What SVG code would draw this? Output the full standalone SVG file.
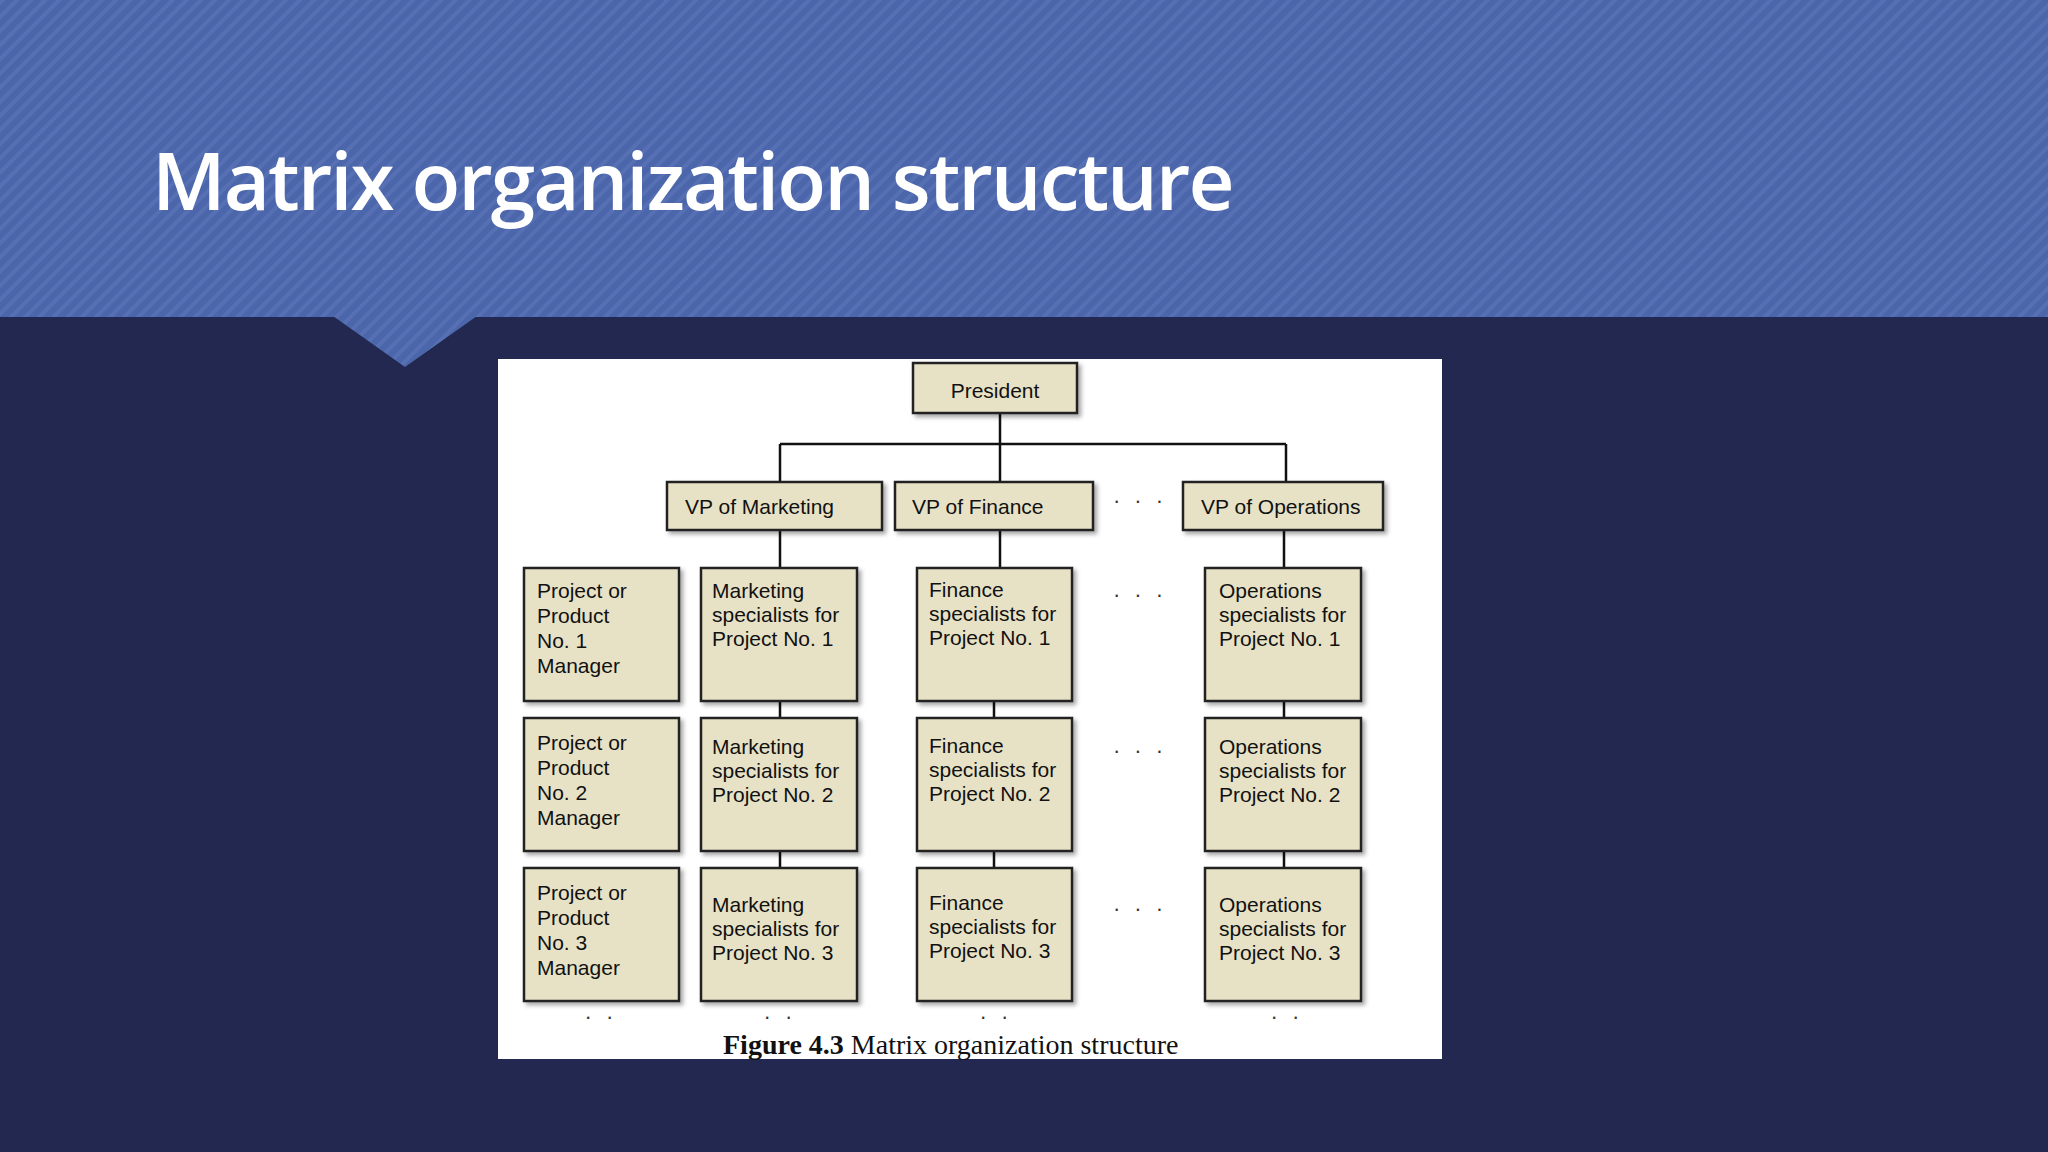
<svg xmlns="http://www.w3.org/2000/svg" width="2048" height="1152" viewBox="0 0 2048 1152">
<defs>
<pattern id="st" width="10" height="10" patternUnits="userSpaceOnUse" patternTransform="rotate(45)">
<rect width="10" height="10" fill="#4c66ab"/><rect width="4" height="10" fill="#5670b3"/>
</pattern>
<filter id="sh" x="-10%" y="-10%" width="130%" height="130%"><feDropShadow dx="3" dy="3" stdDeviation="2" flood-color="#000" flood-opacity="0.35"/></filter>
</defs>
<style>
.b{fill:#e7e2c6;stroke:#222;stroke-width:2.5;filter:url(#sh)}
.t{font-family:"Liberation Sans",Arial,sans-serif;font-size:21px;fill:#111}
.c{stroke:#111;stroke-width:2.5;fill:none}
.d{font-family:"Liberation Sans",Arial,sans-serif;font-size:22px;fill:#333;letter-spacing:4px}
</style>
<rect width="2048" height="1152" fill="#22284f"/>
<rect width="2048" height="317" fill="url(#st)"/>
<polygon points="333,316 477,316 405,367" fill="url(#st)"/>
<text x="152" y="210" font-family="Open Sans,Noto Sans,sans-serif" font-size="80" font-weight="600" letter-spacing="-2" fill="#fff">Matrix organization structure</text>
<rect x="498" y="359" width="944" height="700" fill="#fff"/>
<g id="connectors">
<path class="c" d="M1000,413V444M780,444H1286M780,444V482M1000,444V482M1286,444V482"/>
<path class="c" d="M780,530V568M1000,530V568M1284,530V568"/>
<path class="c" d="M780,701V718M994,701V718M1284,701V718M780,851V868M994,851V868M1284,851V868"/>
</g>
<g id="president"><rect class="b" x="913" y="363" width="164" height="50"/><text class="t" x="995" y="398" font-size="26" text-anchor="middle">President</text></g>
<g id="vp-marketing"><rect class="b" x="667" y="482" width="215" height="48"/><text class="t" x="685" y="514">VP of Marketing</text></g>
<g id="vp-finance"><rect class="b" x="895" y="482" width="198" height="48"/><text class="t" x="912" y="514">VP of Finance</text></g>
<g id="vp-operations"><rect class="b" x="1183" y="482" width="200" height="48"/><text class="t" x="1201" y="514">VP of Operations</text></g>
<g id="pm1"><rect class="b" x="524" y="568" width="155" height="133"/><text class="t" x="537" y="598"><tspan x="537">Project or</tspan><tspan x="537" dy="25">Product</tspan><tspan x="537" dy="25">No. 1</tspan><tspan x="537" dy="25">Manager</tspan></text></g>
<g id="pm2"><rect class="b" x="524" y="718" width="155" height="133"/><text class="t" x="537" y="750"><tspan x="537">Project or</tspan><tspan x="537" dy="25">Product</tspan><tspan x="537" dy="25">No. 2</tspan><tspan x="537" dy="25">Manager</tspan></text></g>
<g id="pm3"><rect class="b" x="524" y="868" width="155" height="133"/><text class="t" x="537" y="900"><tspan x="537">Project or</tspan><tspan x="537" dy="25">Product</tspan><tspan x="537" dy="25">No. 3</tspan><tspan x="537" dy="25">Manager</tspan></text></g>
<g id="m1"><rect class="b" x="701" y="568" width="156" height="133"/><text class="t" x="712" y="598"><tspan x="712">Marketing</tspan><tspan x="712" dy="24">specialists for</tspan><tspan x="712" dy="24">Project No. 1</tspan></text></g>
<g id="m2"><rect class="b" x="701" y="718" width="156" height="133"/><text class="t" x="712" y="754"><tspan x="712">Marketing</tspan><tspan x="712" dy="24">specialists for</tspan><tspan x="712" dy="24">Project No. 2</tspan></text></g>
<g id="m3"><rect class="b" x="701" y="868" width="156" height="133"/><text class="t" x="712" y="912"><tspan x="712">Marketing</tspan><tspan x="712" dy="24">specialists for</tspan><tspan x="712" dy="24">Project No. 3</tspan></text></g>
<g id="f1"><rect class="b" x="917" y="568" width="155" height="133"/><text class="t" x="929" y="597"><tspan x="929">Finance</tspan><tspan x="929" dy="24">specialists for</tspan><tspan x="929" dy="24">Project No. 1</tspan></text></g>
<g id="f2"><rect class="b" x="917" y="718" width="155" height="133"/><text class="t" x="929" y="753"><tspan x="929">Finance</tspan><tspan x="929" dy="24">specialists for</tspan><tspan x="929" dy="24">Project No. 2</tspan></text></g>
<g id="f3"><rect class="b" x="917" y="868" width="155" height="133"/><text class="t" x="929" y="910"><tspan x="929">Finance</tspan><tspan x="929" dy="24">specialists for</tspan><tspan x="929" dy="24">Project No. 3</tspan></text></g>
<g id="o1"><rect class="b" x="1205" y="568" width="156" height="133"/><text class="t" x="1219" y="598"><tspan x="1219">Operations</tspan><tspan x="1219" dy="24">specialists for</tspan><tspan x="1219" dy="24">Project No. 1</tspan></text></g>
<g id="o2"><rect class="b" x="1205" y="718" width="156" height="133"/><text class="t" x="1219" y="754"><tspan x="1219">Operations</tspan><tspan x="1219" dy="24">specialists for</tspan><tspan x="1219" dy="24">Project No. 2</tspan></text></g>
<g id="o3"><rect class="b" x="1205" y="868" width="156" height="133"/><text class="t" x="1219" y="912"><tspan x="1219">Operations</tspan><tspan x="1219" dy="24">specialists for</tspan><tspan x="1219" dy="24">Project No. 3</tspan></text></g>
<g id="dots">
<text class="d" x="1140" y="508" text-anchor="middle">· · ·</text>
<text class="d" x="1140" y="602" text-anchor="middle">· · ·</text>
<text class="d" x="1140" y="758" text-anchor="middle">· · ·</text>
<text class="d" x="1140" y="916" text-anchor="middle">· · ·</text>
<text class="d" x="601" y="1024" font-size="18" text-anchor="middle">· ·</text>
<text class="d" x="780" y="1024" font-size="18" text-anchor="middle">· ·</text>
<text class="d" x="996" y="1024" font-size="18" text-anchor="middle">· ·</text>
<text class="d" x="1287" y="1024" font-size="18" text-anchor="middle">· ·</text>
</g>
<text x="723" y="1054" font-family="Liberation Serif,serif" font-size="28" fill="#111"><tspan font-weight="bold">Figure 4.3</tspan> Matrix organization structure</text>
</svg>
